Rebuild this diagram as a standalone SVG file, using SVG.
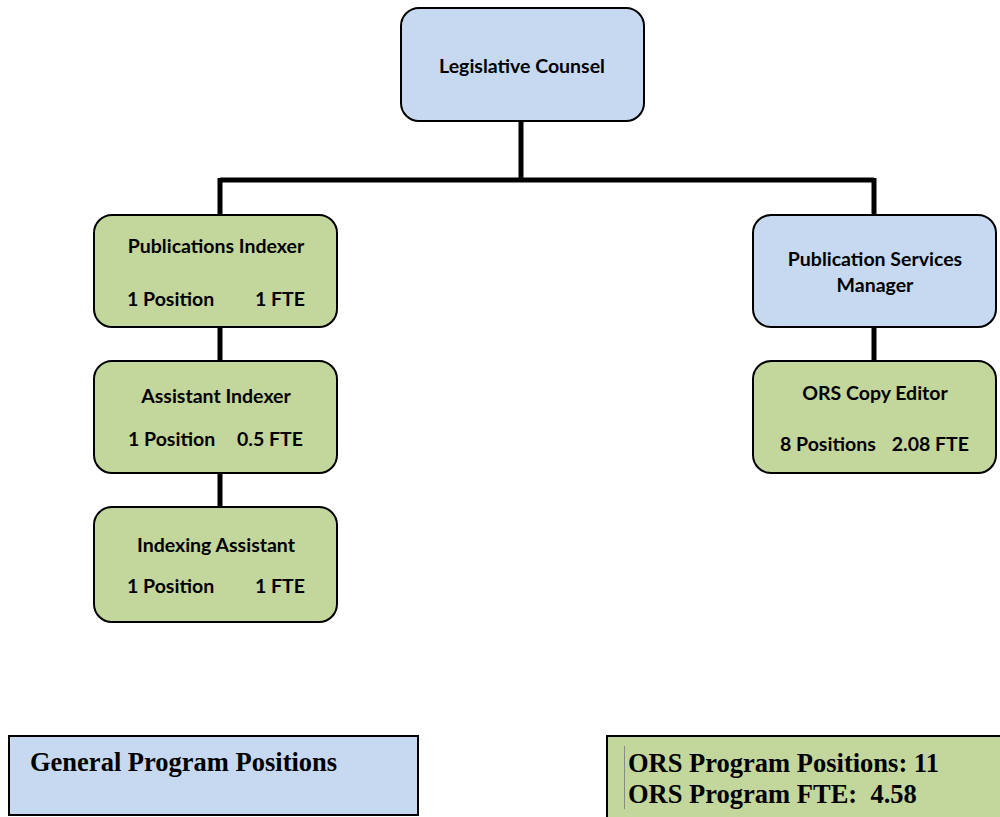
<svg xmlns="http://www.w3.org/2000/svg" width="1000" height="817" viewBox="0 0 1000 817">
  <style>
    .box { stroke: #000; stroke-width: 2; }
    .blue { fill: #c6d9f1; }
    .green { fill: #c3d69b; }
    .t { font-family: Lato, "Open Sans", sans-serif; font-weight: bold; font-size: 19.5px; fill: #000; }
    .mid { text-anchor: middle; }
    .end { text-anchor: end; }
    .serif { font-family: "Liberation Serif", "Times New Roman", serif; font-weight: bold; font-size: 26.5px; fill: #000; }
    .wire { stroke: #000; stroke-width: 5; fill: none; }
  </style>
  <rect width="1000" height="817" fill="#fff"/>

  <g id="connectors">
    <path class="wire" d="M521 121 V180 M220 180 H874 M220 178 V215 M874 178 V215"/>
    <path class="wire" d="M220 327 V361 M220 473 V507 M874 327 V361"/>
  </g>

  <g id="legislative-counsel">
    <rect class="box blue" x="401" y="8" width="243" height="113" rx="18"/>
    <text class="t mid" x="522" y="73">Legislative Counsel</text>
  </g>

  <g id="publications-indexer">
    <rect class="box green" x="94" y="215" width="243" height="112" rx="18"/>
    <text class="t mid" x="216" y="253">Publications Indexer</text>
    <text class="t" x="127" y="306">1 Position</text>
    <text class="t end" x="305" y="306">1 FTE</text>
  </g>

  <g id="assistant-indexer">
    <rect class="box green" x="94" y="361" width="243" height="112" rx="18"/>
    <text class="t mid" x="216" y="403">Assistant Indexer</text>
    <text class="t" x="128" y="446">1 Position</text>
    <text class="t end" x="303" y="446">0.5 FTE</text>
  </g>

  <g id="indexing-assistant">
    <rect class="box green" x="94" y="507" width="243" height="115" rx="18"/>
    <text class="t mid" x="216" y="552">Indexing Assistant</text>
    <text class="t" x="127" y="593">1 Position</text>
    <text class="t end" x="305" y="593">1 FTE</text>
  </g>

  <g id="publication-services-manager">
    <rect class="box blue" x="753" y="215" width="243" height="112" rx="18"/>
    <text class="t mid" x="875" y="266">Publication Services</text>
    <text class="t mid" x="875" y="292">Manager</text>
  </g>

  <g id="ors-copy-editor">
    <rect class="box green" x="753" y="361" width="243" height="112" rx="18"/>
    <text class="t mid" x="875" y="400">ORS Copy Editor</text>
    <text class="t" x="780" y="451">8 Positions</text>
    <text class="t end" x="969" y="451">2.08 FTE</text>
  </g>

  <g id="general-program-legend">
    <rect class="box blue" x="9" y="736" width="409" height="79"/>
    <text class="serif" x="30" y="771">General Program Positions</text>
  </g>

  <g id="ors-program-legend">
    <rect class="box green" x="607" y="736" width="400" height="90"/>
    <line x1="624.5" y1="746" x2="624.5" y2="809" stroke="#8a8a8a" stroke-width="1"/>
    <text class="serif" x="628" y="772">ORS Program Positions: 11</text>
    <text class="serif" x="628" y="803" xml:space="preserve">ORS Program FTE:  4.58</text>
  </g>
</svg>
